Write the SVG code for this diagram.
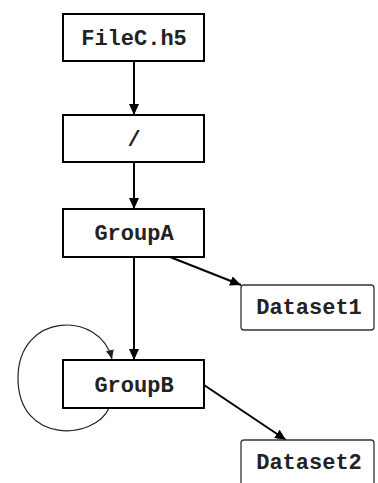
<svg xmlns="http://www.w3.org/2000/svg" width="378" height="483" viewBox="0 0 378 483">
<style>
.box{fill:#fff;stroke:#000;stroke-width:2}
.ds{fill:#fff;stroke:#333;stroke-width:1.3}
.lbl{font-family:"Liberation Mono","DejaVu Sans Mono",monospace;font-size:22px;font-weight:bold;fill:#222;text-anchor:middle}
.edge{fill:none;stroke:#000;stroke-width:2}
.loop{fill:none;stroke:#222;stroke-width:1.2}
</style>
<defs>
<marker id="ah" markerUnits="userSpaceOnUse" markerWidth="12" markerHeight="10" refX="11" refY="5" orient="auto">
<path d="M0,0 L11,5 L0,10 z" fill="#000"/>
</marker>
<marker id="ahs" markerUnits="userSpaceOnUse" markerWidth="10" markerHeight="8" refX="9" refY="4" orient="auto">
<path d="M0,0 L9,4 L0,8 z" fill="#222"/>
</marker>
</defs>
<rect width="378" height="483" fill="#fff"/>
<g id="edges">
<line class="edge" x1="134" y1="61" x2="134" y2="115" marker-end="url(#ah)"/>
<line class="edge" x1="134" y1="162" x2="134" y2="209" marker-end="url(#ah)"/>
<line class="edge" x1="134" y1="257" x2="134" y2="360" marker-end="url(#ah)"/>
<line class="edge" x1="170" y1="257" x2="241" y2="285" marker-end="url(#ah)"/>
<line class="edge" x1="204" y1="385" x2="286" y2="440" marker-end="url(#ah)"/>
<path class="loop" d="M109,408 C95,440 18,445 18,378 C18,312 100,310 112,359" marker-end="url(#ahs)"/>
</g>
<g id="node-filec">
<rect class="box" x="63" y="14" width="141" height="47"/>
<text class="lbl" x="134" y="45">FileC.h5</text>
</g>
<g id="node-root">
<rect class="box" x="63" y="115" width="141" height="47"/>
<text class="lbl" x="134" y="146">/</text>
</g>
<g id="node-groupa">
<rect class="box" x="63" y="209" width="141" height="48"/>
<text class="lbl" x="134" y="240">GroupA</text>
</g>
<g id="node-dataset1">
<rect class="ds" x="241" y="285" width="133" height="45" rx="3"/>
<text class="lbl" x="309" y="314">Dataset1</text>
</g>
<g id="node-groupb">
<rect class="box" x="63" y="360" width="141" height="48"/>
<text class="lbl" x="134" y="392">GroupB</text>
</g>
<g id="node-dataset2">
<rect class="ds" x="241" y="440" width="133" height="50" rx="3"/>
<text class="lbl" x="309" y="469">Dataset2</text>
</g>
</svg>
